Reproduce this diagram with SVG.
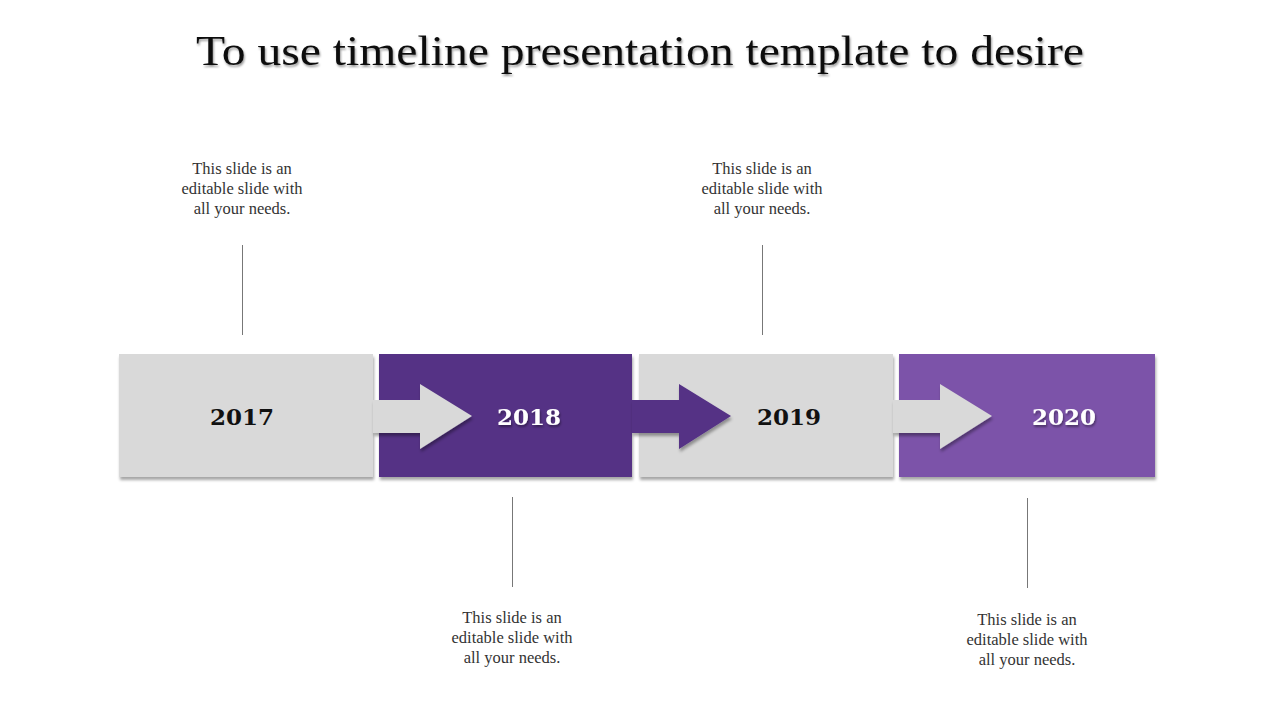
<svg xmlns="http://www.w3.org/2000/svg" width="1280" height="720" viewBox="0 0 1280 720">
<style>
.title{font-family:"Liberation Serif","DejaVu Serif",serif;font-size:42px;fill:#111;text-anchor:middle}
.desc{font-family:"Liberation Serif","DejaVu Serif",serif;font-size:16.5px;fill:#333;text-anchor:middle}
.year{font-family:"DejaVu Serif","Liberation Serif",serif;font-weight:bold;font-size:23px;text-anchor:middle}
.dark{fill:#111}
.light{fill:#fff}
.gray{fill:#D9D9D9}
.p1{fill:#543185}
.p2{fill:#7B52A9}
.lead{stroke:#777;stroke-width:1}
</style>
<defs>
<filter id="sh" x="-10%" y="-10%" width="120%" height="130%">
<feDropShadow dx="1" dy="3" stdDeviation="1.5" flood-color="#000" flood-opacity="0.35"/>
</filter>
<filter id="tsh" x="-10%" y="-20%" width="120%" height="150%">
<feDropShadow dx="1" dy="2" stdDeviation="1.2" flood-color="#000" flood-opacity="0.4"/>
</filter>
</defs>
<rect width="1280" height="720" fill="#fff"/>
<text class="title" x="640" y="65" filter="url(#tsh)" textLength="888" lengthAdjust="spacingAndGlyphs">To use timeline presentation template to desire</text>

<g id="node-2017">
<rect class="gray" x="119" y="354" width="254" height="123" filter="url(#sh)"/>
</g>
<g id="node-2018">
<rect class="p1" x="379" y="354" width="253" height="123" filter="url(#sh)"/>
</g>
<g id="node-2019">
<rect class="gray" x="639" y="354" width="254" height="123" filter="url(#sh)"/>
</g>
<g id="node-2020">
<rect class="p2" x="899" y="354" width="256" height="123" filter="url(#sh)"/>
</g>

<g id="connectors">
<polygon class="gray" points="373,400 420,400 420,384 472,416 420,449 420,433 373,433" filter="url(#sh)"/>
<polygon class="p1" points="632,400 679,400 679,384 731,416 679,449 679,433 632,433" filter="url(#sh)"/>
<polygon class="gray" points="893,400 940,400 940,384 992,416 940,449 940,433 893,433" filter="url(#sh)"/>
<line class="lead" x1="242.5" y1="245" x2="242.5" y2="335"/>
<line class="lead" x1="512.5" y1="497" x2="512.5" y2="587"/>
<line class="lead" x1="762.5" y1="245" x2="762.5" y2="335"/>
<line class="lead" x1="1027.5" y1="498" x2="1027.5" y2="588"/>
</g>

<g id="labels">
<text class="year dark" x="242" y="425">2017</text>
<text class="year light" x="529" y="425" filter="url(#tsh)">2018</text>
<text class="year dark" x="789" y="425">2019</text>
<text class="year light" x="1064" y="425" filter="url(#tsh)">2020</text>
</g>

<g id="desc-2017">
<text class="desc" x="242" y="174">This slide is an</text>
<text class="desc" x="242" y="194">editable slide with</text>
<text class="desc" x="242" y="214">all your needs.</text>
</g>
<g id="desc-2018">
<text class="desc" x="512" y="623">This slide is an</text>
<text class="desc" x="512" y="643">editable slide with</text>
<text class="desc" x="512" y="663">all your needs.</text>
</g>
<g id="desc-2019">
<text class="desc" x="762" y="174">This slide is an</text>
<text class="desc" x="762" y="194">editable slide with</text>
<text class="desc" x="762" y="214">all your needs.</text>
</g>
<g id="desc-2020">
<text class="desc" x="1027" y="625">This slide is an</text>
<text class="desc" x="1027" y="645">editable slide with</text>
<text class="desc" x="1027" y="665">all your needs.</text>
</g>
</svg>
